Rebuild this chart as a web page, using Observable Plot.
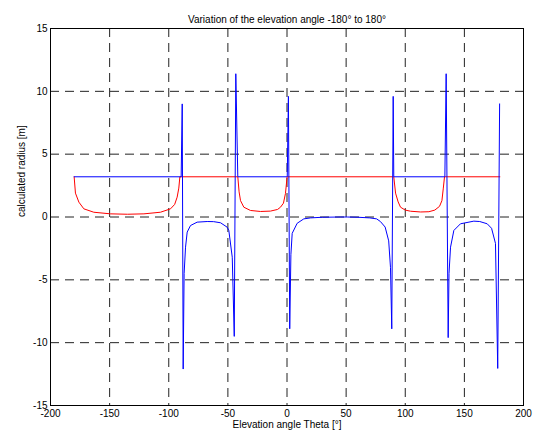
<!DOCTYPE html>
<html>
<head>
<meta charset="utf-8">
<script src="https://cdn.jsdelivr.net/npm/d3@7"></script>
<script src="https://cdn.jsdelivr.net/npm/@observablehq/plot@0.6"></script>
<style>
  html, body { margin: 0; padding: 0; background: #fff; }
</style>
</head>
<body>
<div id="chart"></div>
<script>
// ---- data ----
const titleText = "Variation of the elevation angle -180° to 180°";
const xLabel = "Elevation angle Theta [°]";
const yLabel = "calculated radius [m]";

const xTicks = [-200, -150, -100, -50, 0, 50, 100, 150, 200];
const yTicks = [-15, -10, -5, 0, 5, 10, 15];
const xGrid = [-150, -100, -50, 0, 50, 100, 150];
const yGrid = [-10, -5, 0, 5, 10];

// red series (theta in degrees, radius in m)
const thetaRed = [-180, -178.9, -176, -171.8, -163.4, -149.3, -135, -121, -107, -98.5, -95, -92.9, -91.5, -90.6,
  -41.6, -40.5, -39.3, -36.5, -30.9, -22.4, -14, -8, -5.5, -3, -1.3, 0.1,
  90.3, 91.8, 94, 96, 100, 104.5, 113, 120, 125, 129, 131, 132.2, 133.2, 180];
const radiusRed = [3.2, 1.9, 1.18, 0.65, 0.38, 0.25, 0.22, 0.25, 0.38, 0.65, 1.0, 1.58, 2.3, 3.2,
  3.2, 2.0, 1.3, 0.78, 0.52, 0.44, 0.47, 0.6, 0.78, 1.1, 1.87, 3.2,
  3.2, 1.9, 1.2, 0.78, 0.55, 0.46, 0.4, 0.42, 0.55, 0.85, 1.3, 2.3, 3.2, 3.2];

// blue series
const thetaBlue = [-180, -89.5, -88.6, -87.8, -87, -85.8, -84.4, -81.6, -76, -67.5, -62, -56.2, -50.6, -49.2, -46.3, -44.6, -43.3, -41.6,
  0.2, 1.2, 2.3, 3.3, 4.4, 8.6, 14.2, 20, 30, 45, 51, 60, 70, 75.8, 79, 83, 86, 87.5, 88.6, 89.8, 90.3,
  133.5, 134.6, 136.3, 137, 138.3, 141.1, 146.7, 158, 163, 169.3, 173, 176.3, 178.2, 179.8];
const radiusBlue = [3.2, 3.2, 9.0, -12.1, -4.5, -2.4, -1.2, -0.68, -0.41, -0.36, -0.37, -0.46, -0.81, -1.07, -3.2, -9.5, 11.4, 3.2,
  3.2, 9.6, -8.9, -3.0, -1.3, -0.5, -0.15, -0.07, -0.02, 0.0, 0.0, -0.02, -0.07, -0.15, -0.36, -0.8, -1.9, -4.0, -8.9, 9.6, 3.2,
  3.2, 11.4, -9.6, -4.5, -2.4, -1.07, -0.54, -0.33, -0.36, -0.54, -0.9, -2.1, -12.05, 9.0];

const redData = thetaRed.map((t, i) => ({theta: t, r: radiusRed[i]}));
const blueData = thetaBlue.map((t, i) => ({theta: t, r: radiusBlue[i]}));

const fmt = d => String(d);

const chart = Plot.plot({
  width: 535,
  height: 433,
  marginLeft: 50,
  marginRight: 12,
  marginTop: 28,
  marginBottom: 28,
  style: {fontFamily: "'Liberation Sans', Arial, sans-serif", fontSize: "10px", background: "#fff", color: "#000"},
  x: {domain: [-200, 200]},
  y: {domain: [-15, 15]},
  marks: [
    // dashed grid
    Plot.ruleX(xGrid, {x: d => d, y1: 15, y2: -15, stroke: "#222", strokeWidth: 1, strokeDasharray: "9,6"}),
    Plot.ruleY(yGrid, {y: d => d, x1: -200, x2: 200, stroke: "#222", strokeWidth: 1, strokeDasharray: "9,6"}),
    // axes
    Plot.axisX({ticks: xTicks, tickFormat: fmt, tickSize: 0, tickPadding: 4, label: null}),
    Plot.axisY({ticks: yTicks, tickFormat: fmt, tickSize: 0, tickPadding: 3, label: null}),
    // series
    Plot.line(redData, {x: "theta", y: "r", stroke: "#ff0000", strokeWidth: 1}),
    Plot.line(blueData, {x: "theta", y: "r", stroke: "#0000ff", strokeWidth: 1}),
    Plot.frame({stroke: "#000", strokeWidth: 1}),
    // labels
    Plot.text([titleText], {text: d => d, frameAnchor: "top", dy: -13, fontSize: 10, fill: "#000"}),
    Plot.text([xLabel], {text: d => d, frameAnchor: "bottom", dy: 22, fontSize: 10, fill: "#000"}),
    Plot.text([yLabel], {text: d => d, frameAnchor: "left", dx: -29, rotate: -90, fontSize: 10, fill: "#000"})
  ]
});
document.getElementById("chart").appendChild(chart);
</script>
</body>
</html>
